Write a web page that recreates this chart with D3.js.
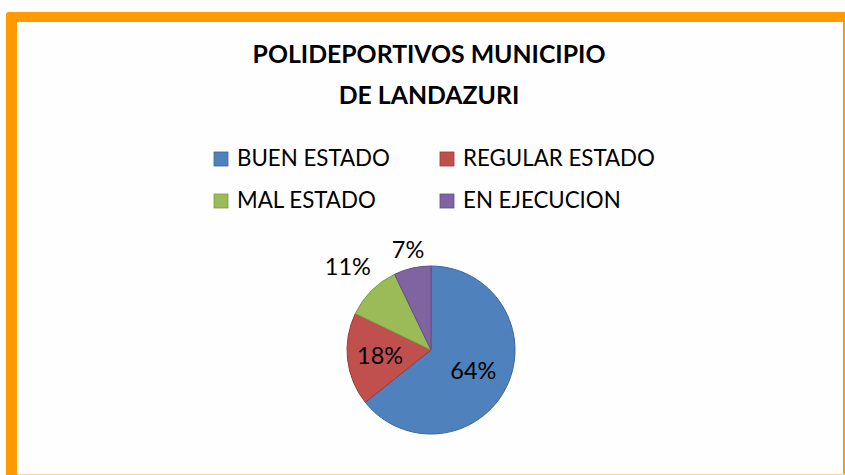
<!DOCTYPE html>
<html><head><meta charset="utf-8">
<script src="https://cdn.jsdelivr.net/npm/d3@7/dist/d3.min.js"></script>
<style>html,body{margin:0;padding:0;background:#fff;}svg{display:block;}</style>
</head><body>
<script>
const titleLines = ["POLIDEPORTIVOS MUNICIPIO", "DE LANDAZURI"];
const categories = ["BUEN ESTADO", "REGULAR ESTADO", "MAL ESTADO", "EN EJECUCION"];
const values = [18, 5, 3, 2];
const colors = ["#4F81BD", "#C0504D", "#9BBB59", "#8064A2"];
const strokes = ["#3A679C", "#9B3D3A", "#7D9A45", "#654E83"];

const W = 845, H = 475;
const svg = d3.select("body").append("svg").attr("width", W).attr("height", H);
const FONT = "Lato, 'Open Sans', sans-serif";

// frame
svg.append("rect").attr("x", 6).attr("y", 12).attr("width", W - 6 + 5).attr("height", H - 12 + 5)
  .attr("rx", 3).attr("fill", "#FF9A00");
svg.append("rect").attr("x", 17).attr("y", 22).attr("width", 843 - 17).attr("height", 474 - 22)
  .attr("fill", "#FEFEFE");
svg.append("rect").attr("x", 17).attr("y", 474).attr("width", 828).attr("height", 1).attr("fill", "#FFD595");

// title
svg.append("g").selectAll("text").data(titleLines).join("text")
  .attr("x", 429).attr("y", (d, i) => 63 + i * 41)
  .attr("text-anchor", "middle").attr("font-family", FONT).attr("font-weight", "bold")
  .attr("font-size", 24.8).attr("fill", "#000").text(d => d);

// legend
const legX = [214, 440], legY = [166, 208];
const leg = svg.append("g").selectAll("g").data(categories).join("g")
  .attr("transform", (d, i) => `translate(${legX[i % 2]},${legY[Math.floor(i / 2)]})`);
leg.append("rect").attr("x", 0).attr("y", -14).attr("width", 14).attr("height", 14)
  .attr("fill", (d, i) => colors[i]).attr("stroke", (d, i) => strokes[i]).attr("stroke-width", 0.8);
leg.append("text").attr("x", 23).attr("y", 0).attr("font-family", FONT).attr("font-size", 22.3)
  .attr("fill", "#000").text(d => d);

// pie
const cx = 431, cy = 350, r = 84;
const total = d3.sum(values);
const pie = d3.pie().sort(null).value(d => d)(values);
const arc = d3.arc().innerRadius(0).outerRadius(r);
const g = svg.append("g").attr("transform", `translate(${cx},${cy})`);
g.selectAll("path").data(pie).join("path").attr("d", arc)
  .attr("fill", (d, i) => colors[i]).attr("stroke", (d, i) => strokes[i]).attr("stroke-width", 1);

const labelR = [0.56, 0.61, 1.4, 1.23].map(f => f * r);
g.selectAll("text").data(pie).join("text")
  .attr("transform", (d, i) => {
    const a = (d.startAngle + d.endAngle) / 2;
    return `translate(${Math.sin(a) * labelR[i]},${-Math.cos(a) * labelR[i]})`;
  })
  .attr("text-anchor", "middle").attr("dy", "0.36em")
  .attr("font-family", FONT).attr("font-size", 23.5).attr("fill", "#000")
  .text(d => Math.round(d.value / total * 100) + "%");
</script>
</body></html>
